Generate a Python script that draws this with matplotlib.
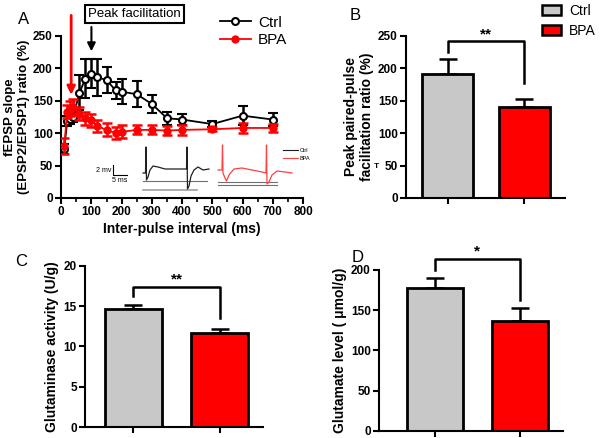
import numpy as np
import matplotlib
matplotlib.use('Agg')
import matplotlib.pyplot as plt
from matplotlib.patches import Patch
from matplotlib.lines import Line2D

plt.rcParams['font.family'] = ['Liberation Sans', 'DejaVu Sans']
plt.rcParams['font.weight'] = 'bold'
plt.rcParams['axes.linewidth'] = 1.5

# ---- panel A: paired-pulse facilitation curve
interval = [10, 20, 30, 40, 60, 80, 100, 120, 150, 180, 200, 250, 300, 350, 400, 500, 600, 700]
ctrl_ppf = [76, 119, 122, 125, 162, 184, 192, 186, 182, 166, 164, 160, 145, 123, 121, 114, 127, 121]
ctrl_ppf_err = [8, 8, 8, 8, 27, 30, 22, 28, 20, 13, 19, 20, 14, 10, 8, 5, 15, 10]
bpa_ppf = [80, 133, 138, 140, 130, 123, 120, 111, 105, 100, 102, 105, 105, 104, 105, 106, 108, 108]
bpa_ppf_err = [12, 10, 12, 12, 10, 10, 10, 9, 10, 9, 10, 7, 7, 7, 8, 3, 7, 6]

# ---- bar panels (Ctrl, BPA)
groups = ['Ctrl', 'BPA']
bar_colors = ['#c8c8c8', '#ff0000']
peak_ppf = [192, 141]
peak_ppf_err = [23, 11]
glutaminase = [14.6, 11.7]
glutaminase_err = [0.5, 0.5]
glutamate = [178, 137]
glutamate_err = [12, 16]

# ---- example traces for inset (drawn in inset units)
ctrl_tx = [143, 145.5, 146, 146.5, 148, 150, 153, 158, 165, 175, 185, 186.5, 187, 187.5, 189, 191, 194, 198, 203, 209]
ctrl_ty = [173, 173, 147, 180, 177, 170, 166, 167, 169, 169, 169, 169, 147, 189, 186, 176, 170, 167, 170, 169]
bpa_tx = [218, 222, 222.5, 223, 225, 226.5, 229, 234, 242, 252, 262, 266, 266.5, 267, 269, 272, 277, 285, 292]
bpa_ty = [170, 170, 145, 173, 178, 181, 175, 169, 168, 170, 172, 173, 145, 184, 182, 175, 171, 172, 173]

fig = plt.figure(figsize=(6, 4.38), dpi=100)


def style(ax):
    ax.spines['top'].set_visible(False)
    ax.spines['right'].set_visible(False)
    ax.tick_params(labelsize=8.5, width=1.5, length=4, pad=2)
    for t in ax.get_xticklabels() + ax.get_yticklabels():
        t.set_fontweight('bold')


# Panel A
axA = fig.add_axes([0.102, 0.548, 0.403, 0.37])
axA.errorbar(interval, ctrl_ppf, yerr=ctrl_ppf_err, color='black', lw=1.3,
             marker='o', ms=5, mfc='white', mec='black', mew=1.5,
             elinewidth=1.8, capsize=3.5, capthick=1.8, zorder=3)
axA.errorbar(interval, bpa_ppf, yerr=bpa_ppf_err, color='red', lw=1.3,
             marker='o', ms=5, mfc='red', mec='red',
             elinewidth=1.8, capsize=3.5, capthick=1.8, zorder=4)
axA.set_xlim(0, 800)
axA.set_ylim(0, 250)
axA.set_xticks(range(0, 801, 100))
axA.set_xticks(range(0, 801, 50), minor=True)
axA.set_yticks(range(0, 251, 50))
axA.tick_params(which='minor', length=3, width=1.2)
style(axA)
axA.set_xlabel('Inter-pulse interval (ms)', fontsize=10, fontweight='bold', labelpad=3)
axA.set_ylabel('fEPSP slope\n(EPSP2/EPSP1) ratio (%)', fontsize=9.5, fontweight='bold', labelpad=2)
axA.text(242, 284, 'Peak facilitation', fontsize=9.5, fontweight='normal', ha='center', va='center',
         bbox=dict(boxstyle='square,pad=0.25', fc='white', ec='black', lw=1.5), clip_on=False)
axA.annotate('', xy=(100, 222), xytext=(100, 268),
             arrowprops=dict(arrowstyle='-|>', color='black', lw=1.5, mutation_scale=12), annotation_clip=False)
axA.annotate('', xy=(33, 155), xytext=(33, 286),
             arrowprops=dict(arrowstyle='-|>', color='red', lw=2, mutation_scale=12), annotation_clip=False)
axA.legend(handles=[Line2D([], [], color='black', marker='o', mfc='white', mew=1.5, ms=5, lw=1.3),
                    Line2D([], [], color='red', marker='o', mfc='red', mec='red', ms=5, lw=1.3)],
           labels=['Ctrl', 'BPA'], loc='upper left', bbox_to_anchor=(0.6, 1.21), frameon=False,
           prop={'size': 11, 'weight': 'normal'}, handlelength=2, handletextpad=0.5, labelspacing=0.25)

# inset traces, in picture-like units
ins = fig.add_axes([90 / 600, 1 - 195 / 438, 230 / 600, 55 / 438])
ins.set_xlim(90, 320)
ins.set_ylim(195, 140)
ins.axis('off')
ins.plot([143, 207], [180.7, 180.7], color='#707070', lw=0.8)
ins.plot([143, 197], [190, 190], color='#a0a0a0', lw=1.2)
ins.plot(ctrl_tx, ctrl_ty, color='#202020', lw=0.9)
ins.plot([218, 277], [181.5, 181.5], color='#707070', lw=0.8)
ins.plot([218, 277], [184.5, 184.5], color='#707070', lw=0.8)
ins.plot(bpa_tx, bpa_ty, color='#ff4040', lw=0.9)
ins.plot([113, 113, 127], [165, 175, 175], color='black', lw=0.8)
ins.text(111, 170, '2 mv', fontsize=5, fontweight='normal', ha='right', va='center')
ins.text(112, 180.5, '5 ms', fontsize=5, fontweight='normal', ha='left', va='center')
ins.plot([283, 298], [150, 150], color='#202020', lw=0.8, clip_on=False)
ins.plot([283, 298], [158, 158], color='#ff4040', lw=0.8, clip_on=False)
ins.text(300, 150, 'Ctrl', fontsize=4, fontweight='normal', va='center', clip_on=False)
ins.text(300, 158, 'BPA', fontsize=4, fontweight='normal', va='center', clip_on=False)


def bar_panel(rect, vals, errs, ylim, yticks, xlim, bracket, stars, ylabel):
    ax = fig.add_axes(rect)
    x = np.arange(len(vals))
    ax.bar(x, vals, width=0.66, color=bar_colors, edgecolor='black', linewidth=2, zorder=2)
    for xi, v, e in zip(x, vals, errs):
        ax.errorbar(xi, v, yerr=[[0], [e]], color='black', elinewidth=1.8,
                    capsize=6.5, capthick=1.8, zorder=1)
    top, l_end, r_end = bracket
    ax.plot([0, 0, 1, 1], [l_end, top, top, r_end], color='black', lw=1.8, clip_on=False)
    ax.text(0.5, top, stars, ha='center', va='bottom', fontsize=11, fontweight='bold')
    ax.set_xlim(*xlim)
    ax.set_ylim(*ylim)
    ax.set_xticks(x)
    ax.set_xticklabels([])
    ax.set_yticks(yticks)
    style(ax)
    ax.set_ylabel(ylabel, fontsize=10, fontweight='bold', labelpad=3)
    return ax


axB = bar_panel([0.677, 0.548, 0.265, 0.37], peak_ppf, peak_ppf_err, (0, 250), range(0, 251, 50),
                (-0.54, 1.53), (242, 225, 178), '**', 'Peak paired-pulse\nfacilitation ratio (%)')
axB.legend(handles=[Patch(fc=bar_colors[0], ec='black', lw=1.8), Patch(fc=bar_colors[1], ec='black', lw=1.8)],
           labels=groups, loc='upper left', bbox_to_anchor=(0.8, 1.25), frameon=False,
           prop={'size': 10, 'weight': 'normal'}, handlelength=1.4, handleheight=0.8,
           handletextpad=0.55, labelspacing=0.45, borderaxespad=0.2)
fig.text(376 / 600, 1 - 166 / 438, 'T', fontsize=6, fontweight='bold', ha='center', va='center')

axC = bar_panel([0.142, 0.025, 0.296, 0.368], glutaminase, glutaminase_err, (0, 20), range(0, 21, 5),
                (-0.56, 1.5), (17.4, 16.3, 13.5), '**', 'Glutaminase activity (U/g)')

axD = bar_panel([0.632, 0.016, 0.306, 0.368], glutamate, glutamate_err, (0, 200), range(0, 201, 50),
                (-0.65, 1.5), (214, 200, 163), '*', 'Glutamate level ( \u03bcmol/g)')

fig.text(18 / 600, 1 - 20 / 438, 'A', fontsize=12, fontweight='normal', va='center')
fig.text(350 / 600, 1 - 15 / 438, 'B', fontsize=12, fontweight='normal', va='center')
fig.text(15 / 600, 1 - 262 / 438, 'C', fontsize=12, fontweight='normal', va='center')
fig.text(352 / 600, 1 - 258 / 438, 'D', fontsize=12, fontweight='normal', va='center')

fig.savefig('out.png', dpi=100)
